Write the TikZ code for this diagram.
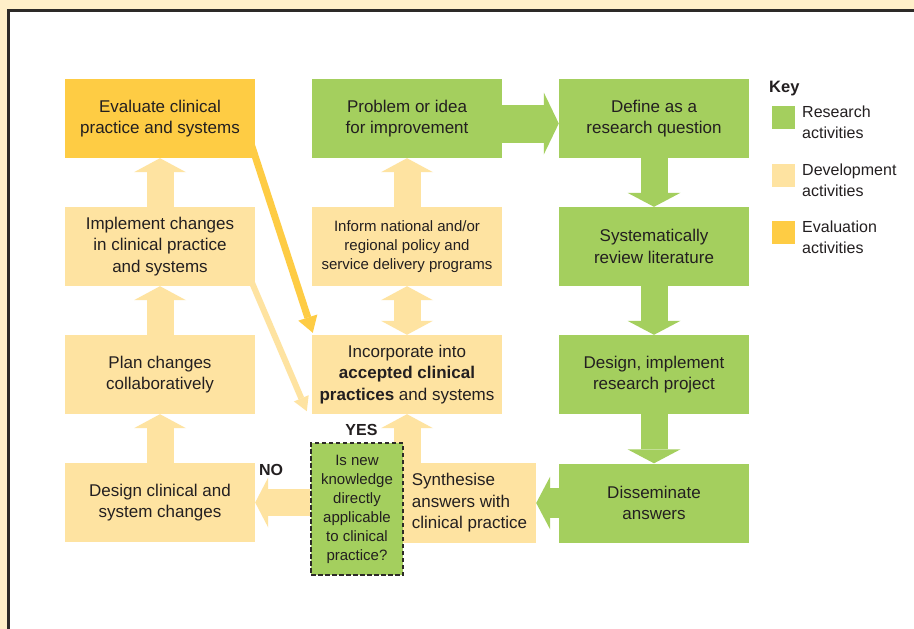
\documentclass[tikz,border=0pt]{standalone}
\usepackage{fontspec}
\setmainfont{Liberation Sans}
\usetikzlibrary{arrows.meta,backgrounds,calc}

\definecolor{research}{RGB}{164,207,94}
\definecolor{develop}{RGB}{254,227,161}
\definecolor{evaluate}{RGB}{254,204,68}
\definecolor{paper}{RGB}{255,239,201}
\definecolor{ink}{RGB}{35,31,32}
\definecolor{rule}{RGB}{45,42,40}

\newcommand{\boxfont}{\fontsize{17}{21.5}\selectfont}
\newcommand{\smallfont}{\fontsize{15}{19}\selectfont}
\newcommand{\keyfont}{\fontsize{16}{21}\selectfont}

\tikzset{
  box/.style={minimum width=190pt, minimum height=79pt, inner sep=0pt, align=center, font=\boxfont, text=ink},
  resbox/.style={box, fill=research},
  devbox/.style={box, fill=develop},
  evalbox/.style={box, fill=evaluate},
  blockarrow/.style n args={4}{draw=#1, line width=#2, -{Triangle[length=#3, width=#4, line width=0pt]}},
  uparrow/.style={blockarrow={develop}{27pt}{14pt}{52pt}},
  downarrow/.style={blockarrow={research}{27pt}{14pt}{53pt}},
  twoway/.style={draw=develop, line width=27pt,
    {Triangle[length=14pt, width=52pt, line width=0pt]}-{Triangle[length=14pt, width=52pt, line width=0pt]}},
  answer/.style={font=\fontsize{16}{19}\selectfont\bfseries, text=ink, inner sep=0pt},
}

\begin{document}
\begin{tikzpicture}[x=1pt, y=-1pt]
  \useasboundingbox (0,0) rectangle (914,629);

  % Left column: development and evaluation
  \node[evalbox] (evaluate) at (160,118.5) {Evaluate clinical\\practice and systems};
  \node[devbox] (implement) at (160,246.5) {Implement changes\\in clinical practice\\and systems};
  \node[devbox] (plan) at (160,374.5) {Plan changes\\collaboratively};
  \node[devbox] (design) at (160,502.5) {Design clinical and\\system changes};

  % Middle column
  \node[resbox] (problem) at (407,118.5) {Problem or idea\\for improvement};
  \node[devbox, font=\smallfont] (inform) at (407,246.5) {Inform national and/or\\regional policy and\\service delivery programs};
  \node[devbox] (incorp) at (407,374.5) {Incorporate into\\\textbf{accepted clinical}\\\textbf{practices} and systems};
  \node[devbox, minimum width=133pt, minimum height=80pt, align=left] (synth) at (469.5,503) {Synthesise\\answers with\\clinical practice};

  % Right column: research
  \node[resbox] (define) at (654,118.5) {Define as a\\research question};
  \node[resbox] (review) at (654,246.5) {Systematically\\review literature};
  \node[resbox] (project) at (654,374.5) {Design, implement\\research project};
  \node[resbox] (dissem) at (654,503) {Disseminate\\answers};

  % Block arrows
  \foreach \a/\b in {design/plan, plan/implement, implement/evaluate, inform/problem}
    \draw[uparrow] (\a.north) -- (\b.south);
  \foreach \a/\b in {define/review, review/project, project/dissem}
    \draw[downarrow] (\a.south) -- (\b.north);
  \draw[twoway] (incorp.north) -- (inform.south);
  \draw[uparrow] (incorp.south |- synth.north) -- (incorp.south);
  \draw[blockarrow={research}{38pt}{15pt}{62pt}] ($(problem.east)+(0,5)$) -- ($(define.west)+(0,5)$);
  \draw[blockarrow={research}{30pt}{14pt}{53pt}] (dissem.west) -- (synth.east);

  % Decision box sits over the YES arrow
  \node[resbox, minimum width=92pt, minimum height=132pt, font=\smallfont, draw=rule, line width=1.2pt, dash pattern=on 4.5pt off 2.5pt] (ask) at (357,509) {Is new\\knowledge\\directly\\applicable\\to clinical\\practice?};
  \draw[blockarrow={develop}{27pt}{13pt}{50pt}] (ask.west |- design.east) -- (design.east);

  \node[answer] (yes) at (361.5,430) {YES};
  \node[answer] (no) at (271,470) {NO};

  % Key
  \node[anchor=north west, inner sep=0pt, font=\fontsize{16.5}{20}\selectfont\bfseries, text=ink] (key) at (769,81) {Key};
  \foreach \c/\y/\t [count=\i] in {research/106/Research, develop/164/Development, evaluate/221/Evaluation} {
    \node[fill=\c, minimum size=23pt, inner sep=0pt, anchor=north west] (swatch\i) at (772,\y) {};
    \node[anchor=north west, inner sep=0pt, align=left, font=\keyfont, text=ink] (label\i) at (802,\y) {\t\\activities};
  }

  % Frame and the two feedback lines go underneath the boxes
  \begin{scope}[on background layer]
    \fill[paper] (0,0) rectangle (914,629);
    \fill[white] (8,10.5) rectangle (914,629);
    \draw[rule, line width=3pt] (8,629) |- (914,10.5);
    \draw[evaluate, line width=7pt, -{Triangle[length=16pt, width=20pt, line width=0pt]}]
      ($(evaluate.south east)+(-4,-14)$) -- ($(incorp.north west)+(1,-2)$);
    \draw[develop, line width=6pt, -{Triangle[length=14pt, width=16pt, line width=0pt]}]
      ($(implement.south east)+(-6,-10)$) -- ($(incorp.south west)+(-5,-3)$);
  \end{scope}
\end{tikzpicture}
\end{document}
